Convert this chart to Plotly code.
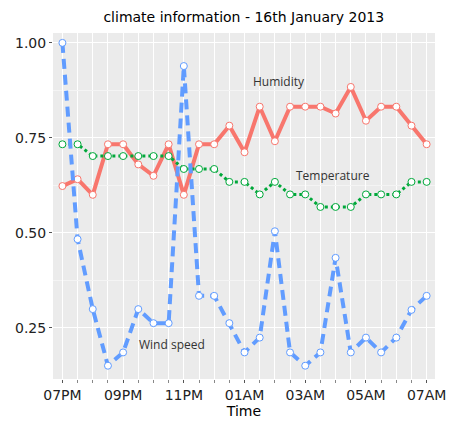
import plotly.graph_objects as go

times = [
    "2013-01-16 19:00", "2013-01-16 19:30", "2013-01-16 20:00", "2013-01-16 20:30",
    "2013-01-16 21:00", "2013-01-16 21:30", "2013-01-16 22:00", "2013-01-16 22:30",
    "2013-01-16 23:00", "2013-01-16 23:30", "2013-01-17 00:00", "2013-01-17 00:30",
    "2013-01-17 01:00", "2013-01-17 01:30", "2013-01-17 02:00", "2013-01-17 02:30",
    "2013-01-17 03:00", "2013-01-17 03:30", "2013-01-17 04:00", "2013-01-17 04:30",
    "2013-01-17 05:00", "2013-01-17 05:30", "2013-01-17 06:00", "2013-01-17 06:30",
    "2013-01-17 07:00",
]
humidity = [0.623, 0.641, 0.600, 0.733, 0.733, 0.680, 0.650, 0.733, 0.600, 0.733,
            0.733, 0.782, 0.712, 0.832, 0.741, 0.832, 0.832, 0.832, 0.814, 0.884,
            0.795, 0.832, 0.832, 0.782, 0.733]
temperature = [0.733, 0.733, 0.702, 0.702, 0.702, 0.702, 0.702, 0.702, 0.668, 0.668,
               0.668, 0.634, 0.634, 0.601, 0.634, 0.601, 0.601, 0.568, 0.568, 0.568,
               0.601, 0.601, 0.601, 0.634, 0.634]
wind_speed = [1.000, 0.483, 0.299, 0.150, 0.185, 0.299, 0.262, 0.262, 0.939, 0.334,
              0.334, 0.262, 0.185, 0.224, 0.504, 0.185, 0.150, 0.185, 0.434, 0.185,
              0.224, 0.185, 0.224, 0.297, 0.334]
y_ticks = [0.25, 0.50, 0.75, 1.00]
y_tick_labels = ["0.25", "0.50", "0.75", "1.00"]

series = [
    ("Humidity", humidity, "#F8766D", "solid", 4),
    ("Temperature", temperature, "#00A83A", "dot", 3),
    ("Wind speed", wind_speed, "#619CFF", "10px,6px", 4),
]

fig = go.Figure()
for name, vals, color, dash, w in series:
    fig.add_trace(go.Scatter(
        x=times, y=vals, mode="lines+markers", name=name,
        line=dict(color=color, width=w, dash=dash),
        marker=dict(size=7, color="white", line=dict(color=color, width=1)),
    ))

labels = [
    ("Humidity", "2013-01-17 02:09", 0.897),
    ("Temperature", "2013-01-17 03:54", 0.652),
    ("Wind speed", "2013-01-16 22:36", 0.205),
]
for txt, x, y in labels:
    fig.add_annotation(x=x, y=y, text=txt, showarrow=False,
                       font=dict(family="Open Sans, sans-serif", size=12, color="#333333"))

fig.update_layout(
    width=454, height=421,
    margin=dict(l=53, r=19, t=33, b=42),
    paper_bgcolor="white", plot_bgcolor="#EBEBEB",
    showlegend=False,
    title=dict(text="climate information - 16th January 2013", x=0.537, xanchor="center",
               y=0.96, yanchor="middle",
               font=dict(family="DejaVu Sans, sans-serif", size=14, color="black")),
    font=dict(family="DejaVu Sans, sans-serif"),
)
fig.update_xaxes(
    type="date",
    range=["2013-01-16 18:41:24", "2013-01-17 07:16:30"],
    tick0="2013-01-16 19:00", dtick=7200000, tickformat="%I%p",
    showgrid=True, gridcolor="white", gridwidth=1.2,
    ticks="outside", ticklen=3, tickcolor="#555555",
    tickfont=dict(size=14, color="#222222"),
    minor=dict(dtick=1800000, tick0="2013-01-16 19:00", showgrid=True, gridcolor="white",
               gridwidth=1.0, ticks="outside", ticklen=3, tickcolor="#888888"),
    zeroline=False, showline=False, automargin=False,
    title=dict(text="Time", font=dict(size=14, color="black"), standoff=0),
)
fig.update_yaxes(
    range=[0.115, 1.026],
    tickvals=y_ticks, ticktext=y_tick_labels,
    showgrid=True, gridcolor="white", gridwidth=1.2,
    ticks="outside", ticklen=3, tickcolor="#555555",
    tickfont=dict(size=14, color="#222222"),
    minor=dict(tickvals=[0.375, 0.625, 0.875], showgrid=True, gridcolor="#F4F4F4", gridwidth=0.8),
    zeroline=False, showline=False, automargin=False,
)

fig.write_html("out.html",
               config={"displayModeBar": False},
               post_script="document.body.style.margin='0';document.body.style.overflow='hidden';")
